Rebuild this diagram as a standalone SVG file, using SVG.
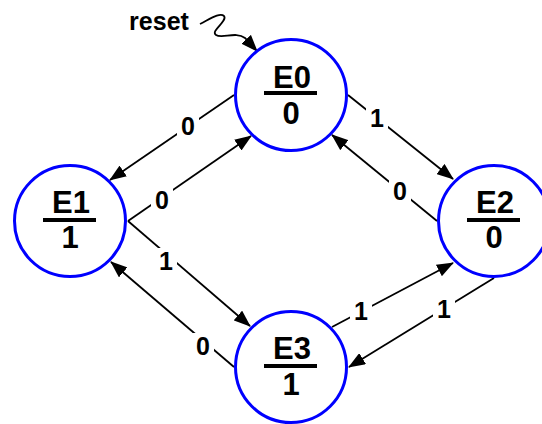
<svg xmlns="http://www.w3.org/2000/svg" width="542" height="424" viewBox="0 0 542 424">
<style>
.node{fill:#fff;stroke:#0000ff;stroke-width:3}
.nt{font-family:"Liberation Sans",Arial,sans-serif;font-weight:bold;font-size:31px;text-anchor:middle;fill:#000}
.bar{fill:#000}
.edge{stroke:#000;stroke-width:1.8;fill:none;marker-end:url(#arr)}
.lbg{fill:#fff}
.lt{font-family:"Liberation Sans",Arial,sans-serif;font-weight:bold;font-size:25px;text-anchor:middle;fill:#000}
</style>
<defs>
<marker id="arr" markerUnits="userSpaceOnUse" viewBox="0 0 17 13" markerWidth="17" markerHeight="13" refX="16" refY="6.5" orient="auto">
<path d="M0,0 L17,6.5 L0,13 z" fill="#000"/>
</marker>
</defs>
<g id="connectors">
<path class="edge" d="M234,95 L110,180"/>
<path class="edge" d="M128,221 L251,136"/>
<path class="edge" d="M348,95 L453,179"/>
<path class="edge" d="M437,221 L332,135"/>
<path class="edge" d="M128,221 L250,326"/>
<path class="edge" d="M234,367 L111,262"/>
<path class="edge" d="M332,327 L453,263"/>
<path class="edge" d="M494,278 L349,367"/>
<path class="edge" d="M200,24 C210,19 220,12 224,16 C228,21 210,31 216,35 C222,39 236,31 245,38 L257,51"/>
</g>
<g id="labels">
<rect class="lbg" x="177" y="113" width="22" height="27"/>
<text class="lt" x="188" y="135">0</text>
<rect class="lbg" x="151" y="187" width="22" height="27"/>
<text class="lt" x="162" y="209">0</text>
<rect class="lbg" x="366" y="105" width="22" height="27"/>
<text class="lt" x="377" y="127">1</text>
<rect class="lbg" x="389" y="178" width="22" height="27"/>
<text class="lt" x="400" y="200">0</text>
<rect class="lbg" x="155" y="248" width="22" height="27"/>
<text class="lt" x="166" y="270">1</text>
<rect class="lbg" x="192" y="333" width="22" height="27"/>
<text class="lt" x="203" y="355">0</text>
<rect class="lbg" x="350" y="298" width="22" height="27"/>
<text class="lt" x="361" y="320">1</text>
<rect class="lbg" x="433" y="296" width="22" height="27"/>
<text class="lt" x="444" y="318">1</text>
<text class="lt" x="159" y="30">reset</text>
</g>
<g id="E0">
<circle class="node" cx="291" cy="95" r="55.5"/>
<text class="nt" x="292" y="88">E0</text>
<rect class="bar" x="264" y="91" width="53" height="4"/>
<text class="nt" x="291" y="124">0</text>
</g>
<g id="E1">
<circle class="node" cx="70" cy="221" r="55.5"/>
<text class="nt" x="71" y="213">E1</text>
<rect class="bar" x="43" y="218" width="53" height="4"/>
<text class="nt" x="70" y="248">1</text>
</g>
<g id="E2">
<circle class="node" cx="494" cy="221" r="55.5"/>
<text class="nt" x="495" y="213">E2</text>
<rect class="bar" x="467" y="218" width="53" height="4"/>
<text class="nt" x="494" y="248">0</text>
</g>
<g id="E3">
<circle class="node" cx="291" cy="367" r="55.5"/>
<text class="nt" x="292" y="359">E3</text>
<rect class="bar" x="264" y="364" width="53" height="4"/>
<text class="nt" x="291" y="395">1</text>
</g>
</svg>
